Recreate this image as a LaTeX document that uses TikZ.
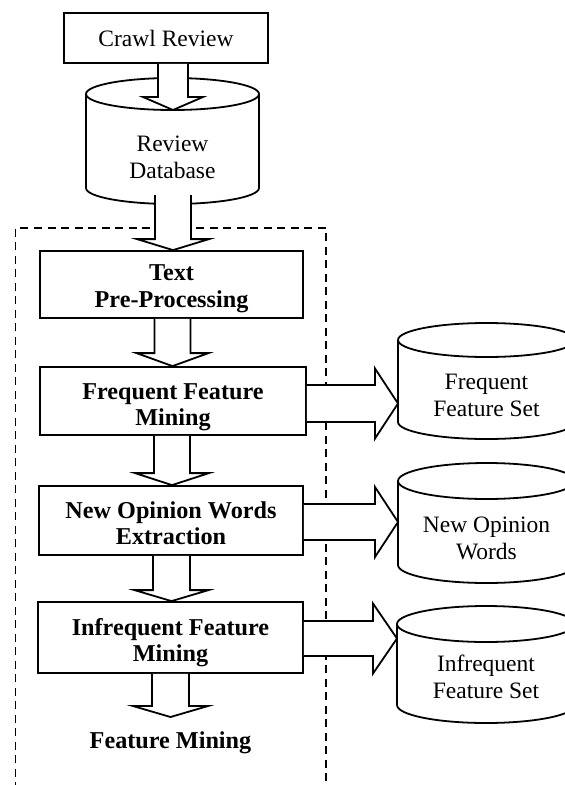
\documentclass[tikz,border=0pt]{standalone}
\usepackage{fontspec}
\setmainfont{Liberation Serif}
\usetikzlibrary{calc}
\tikzset{
  ln/.style={line width=1.8pt, line join=miter},
  procbox/.style={ln, draw, fill=white, inner sep=0pt},
  proctext/.style={align=center, inner sep=0pt,
    font=\bfseries\fontsize{24.2}{26.5}\selectfont},
  plainbox/.style={ln, draw, fill=white, align=center, inner sep=0pt,
    font=\fontsize{23.5}{27}\selectfont},
  dbtext/.style={align=center, inner sep=0pt, font=\fontsize{23.5}{27}\selectfont},
  blk/.style={ln, draw, fill=white},
  frame/.style={line width=1.8pt, dash pattern=on 8pt off 5.5pt},
}
\newcommand{\vblk}[5]{\draw[blk] let \p1=#1, \p2=#2 in
  (\x2-#3pt,\y1) -- (\x2-#3pt,\y2+#5pt) -- (\x2-#4pt,\y2+#5pt) -- (\x2,\y2)
  -- (\x2+#4pt,\y2+#5pt) -- (\x2+#3pt,\y2+#5pt) -- (\x2+#3pt,\y1);}
\newcommand{\hblk}[5]{\draw[blk] let \p1=#1, \p2=#2 in
  (\x1,\y2+#3pt) -- (\x2-#5pt,\y2+#3pt) -- (\x2-#5pt,\y2+#4pt) -- (\x2,\y2)
  -- (\x2-#5pt,\y2-#4pt) -- (\x2-#5pt,\y2-#3pt) -- (\x1,\y2-#3pt);}
\newcommand{\dbcyl}[5]{%
  \draw[ln] (#1,#3) -- (#1,#4) arc[start angle=180,end angle=360,x radius={(#2-#1)/2},y radius=#5] -- (#2,#3);
  \draw[ln] ({(#1+#2)/2},#3) ellipse [x radius={(#2-#1)/2}, y radius=#5];}
\begin{document}
\begin{tikzpicture}[x=1pt,y=1pt]
\useasboundingbox (0,0) rectangle (565,-785);
\clip (0,0) rectangle (565,-785);
% dashed frame
\draw[frame] (15.5,-790) -- (15.5,-228) -- (326,-228) -- (326,-790);
% process boxes
\node[plainbox, minimum width=204pt, minimum height=50pt] (crawl) at (166,-38) {Crawl Review};
\node[procbox, minimum width=263pt, minimum height=67pt] (tpp) at (171.5,-284.5) {};
\node[proctext] (tpp-t) at ($(tpp.center)+(0,-4)$) {Text\\Pre-Processing};
\node[procbox, minimum width=266pt, minimum height=68pt] (ffm) at (173,-401) {};
\node[proctext] (ffm-t) at ($(ffm.center)+(0,-6)$) {Frequent Feature\\Mining};
\node[procbox, minimum width=264pt, minimum height=69pt] (now) at (171,-520.5) {};
\node[proctext] (now-t) at ($(now.center)+(0,-2.5)$) {New Opinion Words\\Extraction};
\node[procbox, minimum width=265pt, minimum height=71pt] (ifm) at (170.5,-637.5) {};
\node[proctext] (ifm-t) at ($(ifm.center)+(0,-5)$) {Infrequent Feature\\Mining};
\node[anchor=base, inner sep=0pt, font=\bfseries\fontsize{24.2}{27}\selectfont] (fm) at (170.5,-748) {Feature Mining};
% databases
\dbcyl{86}{259}{-94}{-188}{16}
\node[dbtext] (rdb) at (172.5,-157) {Review\\Database};
\dbcyl{398}{575}{-340}{-422}{17}
\node[dbtext] (ffs) at (486.5,-395) {Frequent\\Feature Set};
\dbcyl{398}{575}{-481}{-565}{18}
\node[dbtext] (nowdb) at (486.5,-538) {New Opinion\\Words};
\dbcyl{397}{575}{-624}{-705}{18}
\node[dbtext] (ifs) at (486,-677) {Infrequent\\Feature Set};
% arrow end coordinates
\coordinate (rdbtop) at (173,-110);
\coordinate (ffsw) at (398,-403.5);
\coordinate (nowdbw) at (398,-522);
\coordinate (ifsw) at (397,-638.5);
% vertical block arrows
\vblk{(crawl.south)}{(rdbtop)}{15}{30}{13}
\vblk{(rdb.south |- 0,-195)}{(tpp.north -| 173,0)}{18}{36}{11}
\vblk{(tpp.south)}{(ffm.north -| 172.5,0)}{18}{36}{13}
\vblk{(ffm.south)}{(now.north -| 172,0)}{18}{37}{12}
\vblk{(now.south)}{(ifm.north -| 171.5,0)}{18.5}{37}{11}
\vblk{(ifm.south)}{($(fm.north)+(0,14)$)}{18.5}{37.5}{11}
% horizontal block arrows
\hblk{(ffm.east)}{(ffsw)}{18.5}{35}{23}
\hblk{(now.east)}{(nowdbw)}{18}{35}{23}
\hblk{(ifm.east)}{(ifsw)}{17.5}{35}{24}
\end{tikzpicture}
\end{document}
